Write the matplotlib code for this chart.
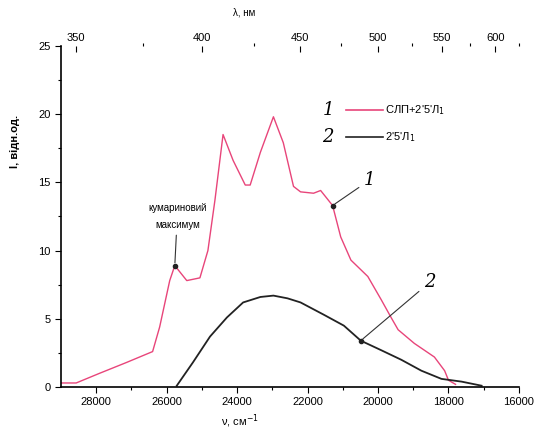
import matplotlib
matplotlib.use("Agg")
import matplotlib.pyplot as plt
import numpy as np

plt.rcParams["font.family"] = ["Liberation Sans", "DejaVu Sans"]

# крива 1: СЛП+2'5'Л1 (хвильове число, см-1 / інтенсивність)
nu_1 = [29000, 28570, 27914, 27143, 26400, 26200, 25914, 25770, 25430, 25057,
        24830, 24630, 24400, 24114, 23770, 23630, 23340, 22970, 22690, 22400,
        22200, 21830, 21630, 21290, 21060, 20770, 20290, 19910, 19630, 19430,
        18970, 18400, 18110, 18000, 17800]
i_1 = [0.3, 0.3, 1.0, 1.8, 2.6, 4.4, 7.8, 8.9, 7.8, 8.0,
       10.0, 13.7, 18.5, 16.6, 14.8, 14.8, 17.2, 19.8, 17.9, 14.7,
       14.3, 14.2, 14.4, 13.3, 11.0, 9.3, 8.1, 6.4, 5.1, 4.2,
       3.2, 2.2, 1.2, 0.5, 0.2]

# крива 2: 2'5'Л1
nu_2 = [25714, 25257, 24770, 24290, 23830, 23340, 22970, 22570, 22200, 21540,
        20970, 20490, 19910, 19340, 18770, 18200, 17630, 17060]
i_2 = [0.1, 1.8, 3.7, 5.1, 6.2, 6.6, 6.7, 6.5, 6.2, 5.3,
       4.5, 3.4, 2.7, 2.0, 1.2, 0.6, 0.4, 0.1]

lambda_ticks = [350, 400, 450, 500, 550, 600]
lambda_minor = [375, 425, 475, 525, 575, 625]

red = "#e8457a"

fig = plt.figure(figsize=(5.4, 4.32), dpi=100)
ax = fig.add_axes([0.113, 0.104, 0.848, 0.790])

ax.plot(nu_1, i_1, color=red, linewidth=1.0)
ax.plot(nu_2, i_2, color="#222222", linewidth=1.3)

ax.set_xlim(29000, 16000)
ax.set_ylim(0, 25)
ax.set_xticks([28000, 26000, 24000, 22000, 20000, 18000, 16000])
ax.set_xticks(np.arange(27000, 16000, -2000), minor=True)
ax.set_yticks([0, 5, 10, 15, 20, 25])
ax.set_yticks([2.5, 7.5, 12.5, 17.5, 22.5], minor=True)
ax.tick_params(labelsize=8, length=4, width=0.8, direction="out")
ax.tick_params(which="minor", length=2.5, width=0.8)
for s in ["top", "right"]:
    ax.spines[s].set_visible(False)
for s in ["left", "bottom"]:
    ax.spines[s].set_linewidth(1.2)

ax.set_xlabel("ν, см$^{-1}$", fontsize=8, labelpad=1)
ax.xaxis.set_label_coords(0.39, -0.075)
ax.set_ylabel("I, відн.од.", fontsize=8, fontweight="bold")
ax.yaxis.set_label_coords(-0.09, 0.72)

# верхня вісь: довжина хвилі
top = ax.twiny()
top.set_xlim(ax.get_xlim())
top.set_xticks([1e7 / l for l in lambda_ticks])
top.set_xticklabels([str(l) for l in lambda_ticks])
top.set_xticks([1e7 / l for l in lambda_minor], minor=True)
top.tick_params(labelsize=8, length=4, width=0.8, direction="in", pad=2)
top.tick_params(which="minor", length=2, width=0.8)
for s in top.spines.values():
    s.set_visible(False)
top.set_xlabel("λ, нм", fontsize=7, labelpad=1)
top.xaxis.set_label_coords(0.40, 1.09)

# легенда
serif = dict(family=["DejaVu Serif"], style="italic", fontsize=13)
ax.text(21250, 20.3, "1", **serif, va="center", ha="right")
ax.text(21250, 18.3, "2", **serif, va="center", ha="right")
ax.plot([20900, 19850], [20.3, 20.3], color=red, linewidth=1.2)
ax.plot([20900, 19850], [18.3, 18.3], color="#222222", linewidth=1.2)
ax.text(19800, 20.3, "СЛП+2'5'Л$_1$", fontsize=8, va="center")
ax.text(19800, 18.3, "2'5'Л$_1$", fontsize=8, va="center")

# підписи кривих
ax.annotate("1", xy=(21290, 13.3), xytext=(20400, 14.8), **serif,
            arrowprops=dict(arrowstyle="-", color="#333333", lw=0.8))
ax.plot([21290], [13.3], "o", color="#222222", markersize=3)
ax.annotate("2", xy=(20490, 3.4), xytext=(18700, 7.3), **serif,
            arrowprops=dict(arrowstyle="-", color="#333333", lw=0.8))
ax.plot([20490], [3.4], "o", color="#222222", markersize=3)

ax.annotate("кумариновий\nмаксимум", xy=(25770, 8.9), xytext=(25700, 12.5),
            fontsize=7, ha="center", va="center", linespacing=1.8,
            arrowprops=dict(arrowstyle="-", color="#333333", lw=0.8))
ax.plot([25770], [8.9], "o", color="#222222", markersize=3)

fig.savefig("out.png", dpi=100)
